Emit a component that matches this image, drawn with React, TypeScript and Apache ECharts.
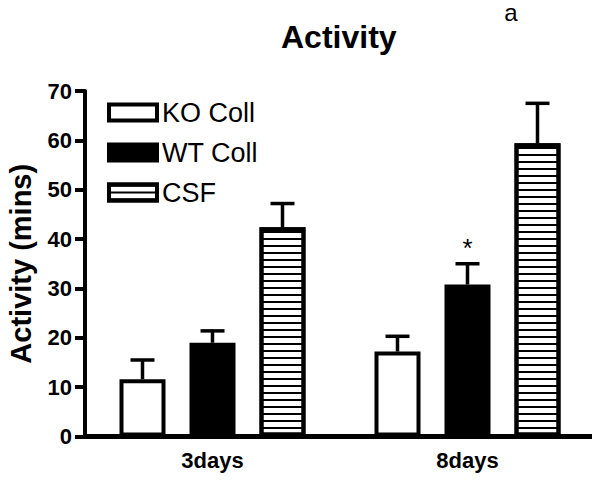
import React, { useEffect, useRef } from "react";
import * as echarts from "echarts";

const categories = ["3days", "8days"];
const seriesNames = ["KO Coll", "WT Coll", "CSF"];
const koValues = [11.6, 17.2];
const wtValues = [19.0, 30.8];
const csfValues = [42.4, 59.4];
const koErrors = [3.9, 3.1];
const wtErrors = [2.4, 4.2];
const csfErrors = [4.8, 8.1];
const wtMarks = ["", "*"];
const yTicks = [0, 10, 20, 30, 40, 50, 60, 70];

const FONT = "'Liberation Sans', Arial, Helvetica, sans-serif";
const BAR_W = 46;
const BAR_STEP = 70;

export default function App() {
  const ref = useRef<HTMLDivElement>(null);
  useEffect(() => {
    if (!ref.current) return;
    const chart = echarts.init(ref.current, null, { renderer: "svg" });

    const barStyle = (fill: string, decal?: any) => ({
      color: fill,
      borderColor: "#000",
      borderWidth: 4,
      ...(decal ? { decal } : {}),
    });
    const stripes = {
      symbol: "rect",
      symbolSize: 1,
      color: "#000",
      dashArrayX: [1, 0],
      dashArrayY: [2, 5],
      rotation: 0,
    };

    const errSeries = (vals: number[], errs: number[], idx: number, marks?: string[]) => ({
      type: "custom",
      name: "err" + idx,
      z: 1,
      silent: true,
      data: vals.map((v, i) => [i, v, errs[i]]),
      encode: { x: 0, y: 1 },
      renderItem: (params: any, api: any) => {
        const ci = api.value(0);
        const v = api.value(1);
        const e = api.value(2);
        const base = api.coord([ci, v]);
        const top = api.coord([ci, v + e]);
        const x = base[0] + (idx - 1) * BAR_STEP;
        const children: any[] = [
          { type: "line", shape: { x1: x, y1: base[1], x2: x, y2: top[1] }, style: { stroke: "#000", lineWidth: 3.5 } },
          { type: "line", shape: { x1: x - 12, y1: top[1], x2: x + 12, y2: top[1] }, style: { stroke: "#000", lineWidth: 3.5 } },
        ];
        const m = marks ? marks[params.dataIndex] : "";
        if (m) {
          children.push({
            type: "text",
            x,
            y: top[1] - 3,
            style: { text: m, fill: "#000", font: `26px ${FONT}`, align: "center", verticalAlign: "bottom" },
          });
        }
        return { type: "group", children };
      },
    });

    chart.setOption({
      animation: false,
      backgroundColor: "#fff",
      title: {
        text: "Activity",
        left: 276,
        top: 16,
        textStyle: { fontFamily: FONT, fontWeight: "bold", fontSize: 32, color: "#000" },
      },
      graphic: [
        {
          type: "text",
          x: 511,
          y: 0,
          style: { text: "a", fill: "#000", font: `24px ${FONT}`, align: "center" },
        },
      ],
      legend: {
        orient: "vertical",
        left: 107,
        top: 99,
        padding: 0,
        itemWidth: 48,
        itemHeight: 16,
        itemGap: 13,
        icon: "rect",
        data: seriesNames,
        itemStyle: { borderColor: "#000", borderWidth: 4 },
        textStyle: { fontFamily: FONT, fontSize: 27, color: "#000" },
      },
      grid: { left: 85, right: 5, top: 91, bottom: 44.5, containLabel: false, outerBoundsMode: "none" },
      xAxis: {
        type: "category",
        data: categories,
        axisLine: { lineStyle: { color: "#000", width: 5 } },
        axisTick: { show: false },
        axisLabel: { fontFamily: FONT, fontWeight: "bold", fontSize: 22, color: "#000", margin: 13 },
      },
      yAxis: {
        type: "value",
        min: yTicks[0],
        max: yTicks[yTicks.length - 1],
        interval: 10,
        name: "Activity (mins)",
        nameLocation: "middle",
        nameRotate: 90,
        nameGap: 50,
        nameTextStyle: { fontFamily: FONT, fontWeight: "bold", fontSize: 29, color: "#000" },
        axisLine: { show: true, lineStyle: { color: "#000", width: 4 } },
        axisTick: { show: true, length: 10, lineStyle: { color: "#000", width: 4 } },
        axisLabel: { fontFamily: FONT, fontWeight: "bold", fontSize: 22, color: "#000", margin: 13 },
        splitLine: { show: false },
      },
      series: [
        { type: "bar", name: seriesNames[0], data: koValues, barWidth: BAR_W, barGap: "52.17%", itemStyle: barStyle("#fff"), z: 2 },
        { type: "bar", name: seriesNames[1], data: wtValues, barWidth: BAR_W, barGap: "52.17%", itemStyle: barStyle("#000"), z: 2 },
        { type: "bar", name: seriesNames[2], data: csfValues, barWidth: BAR_W, barGap: "52.17%", itemStyle: barStyle("#fff", stripes), z: 2 },
        errSeries(koValues, koErrors, 0),
        errSeries(wtValues, wtErrors, 1, wtMarks),
        errSeries(csfValues, csfErrors, 2),
      ],
    });
    return () => chart.dispose();
  }, []);
  return <div ref={ref} style={{ width: 600, height: 481, margin: -8 }} />;
}
